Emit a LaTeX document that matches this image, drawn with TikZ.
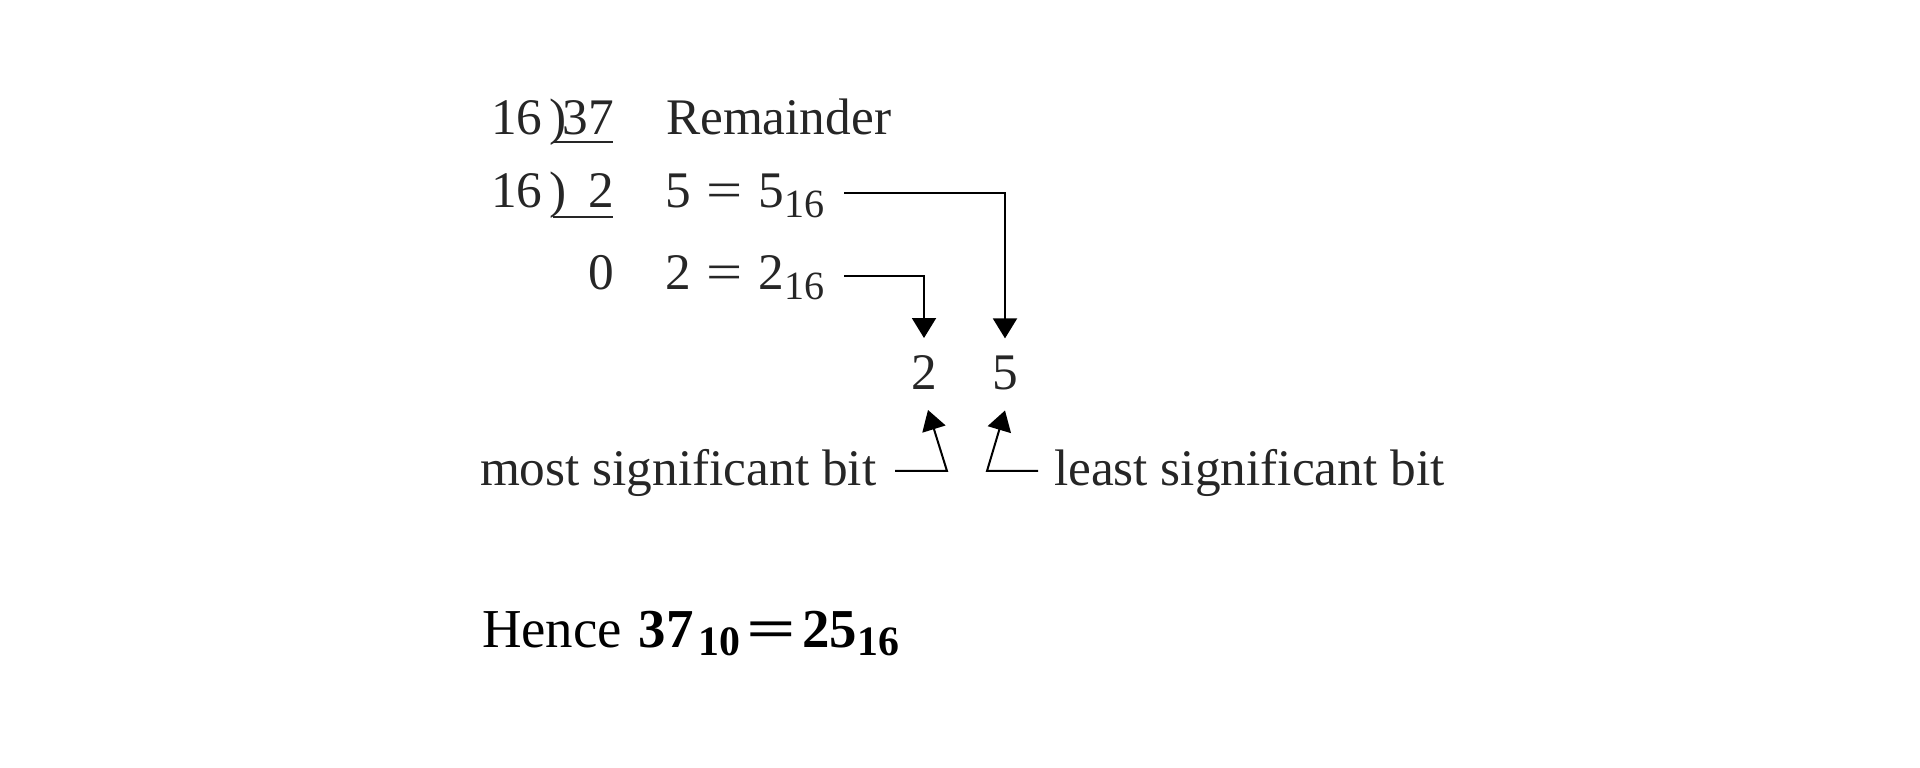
\documentclass[tikz,border=0pt]{standalone}
\usepackage{fontspec}
\usepackage{graphicx}
\setmainfont{Liberation Serif}
\usetikzlibrary{arrows.meta}
\newcommand{\lsub}[1]{\raisebox{-0.18em}{\fontsize{11.4}{13}\selectfont #1}}
\newcommand{\hsub}[1]{\raisebox{-0.13em}{\fontsize{11.9}{14}\selectfont #1}}
\begin{document}
\begin{tikzpicture}[x=0.1mm,y=-0.1mm,
  txt/.style={inner sep=0pt, outer sep=0pt, font=\fontsize{14.6}{17}\selectfont, text=black!85},
  big/.style={inner sep=0pt, outer sep=0pt, font=\fontsize{15.6}{18}\selectfont, text=black},
  conn/.style={line width=0.2mm, line join=miter, draw=black},
  arr/.style={conn, -{Triangle[width=2.4mm,length=2mm]}},
  rule/.style={line width=0.2mm, draw=black!85}]
\useasboundingbox (0,0) rectangle (1920,768);
% row 1
\node[txt, anchor=base west] (a16) at (491,135) {16};
\node[txt, anchor=base west] (abr) at (549,135) {)};
\node[txt, anchor=base east] (a37) at (614,135) {37};
\node[txt, anchor=base west] (rem) at (666,135) {Remainder};
\draw[rule] (553,142) -- (613,142);
% row 2
\node[txt, anchor=base west] (b16) at (491,208) {16};
\node[txt, anchor=base west] (bbr) at (549,208) {)};
\node[txt, anchor=base east] (b2) at (614,208) {2};
\node[txt, anchor=base west] (r2) at (665,208) {5\hspace{0.31em}\scalebox{1.25}[1]{=}\hspace{0.31em}5\lsub{16}};
\draw[rule] (553,217) -- (613,217);
% row 3
\node[txt, anchor=base east] (c0) at (614,290) {0};
\node[txt, anchor=base west] (r3) at (665,290) {2\hspace{0.31em}\scalebox{1.25}[1]{=}\hspace{0.31em}2\lsub{16}};
% result digits
\node[txt, anchor=base] (two) at (924,390) {2};
\node[txt, anchor=base] (five) at (1005,390) {5};
\draw[arr] ([shift={(20,-15)}]r2.base east) -| ([shift={(0,-18)}]five.north);
\draw[arr] ([shift={(20,-14)}]r3.base east) -| ([shift={(0,-18)}]two.north);
% labels
\node[txt, anchor=base west] (msb) at (480,486) {most significant bit};
\node[txt, anchor=base west] (lsb) at (1054,486) {least significant bit};
\coordinate (mc) at (947,471);
\coordinate (lc) at (987,471);
\draw[arr] ([shift={(19,-15)}]msb.base east) -- (mc) -- ([shift={(4,20)}]two.south);
\draw[arr] ([shift={(-16,-15)}]lsb.base west) -- (lc) -- ([shift={(0,20)}]five.south);
% conclusion
\node[big, anchor=base west] (hence) at (482,648) {Hence\kern0.3mm\ {\bfseries 37\kern0.5mm\hsub{10}\kern0.6mm\scalebox{1.6}[1]{=}\kern0.6mm 25\hsub{16}}};
\end{tikzpicture}
\end{document}
